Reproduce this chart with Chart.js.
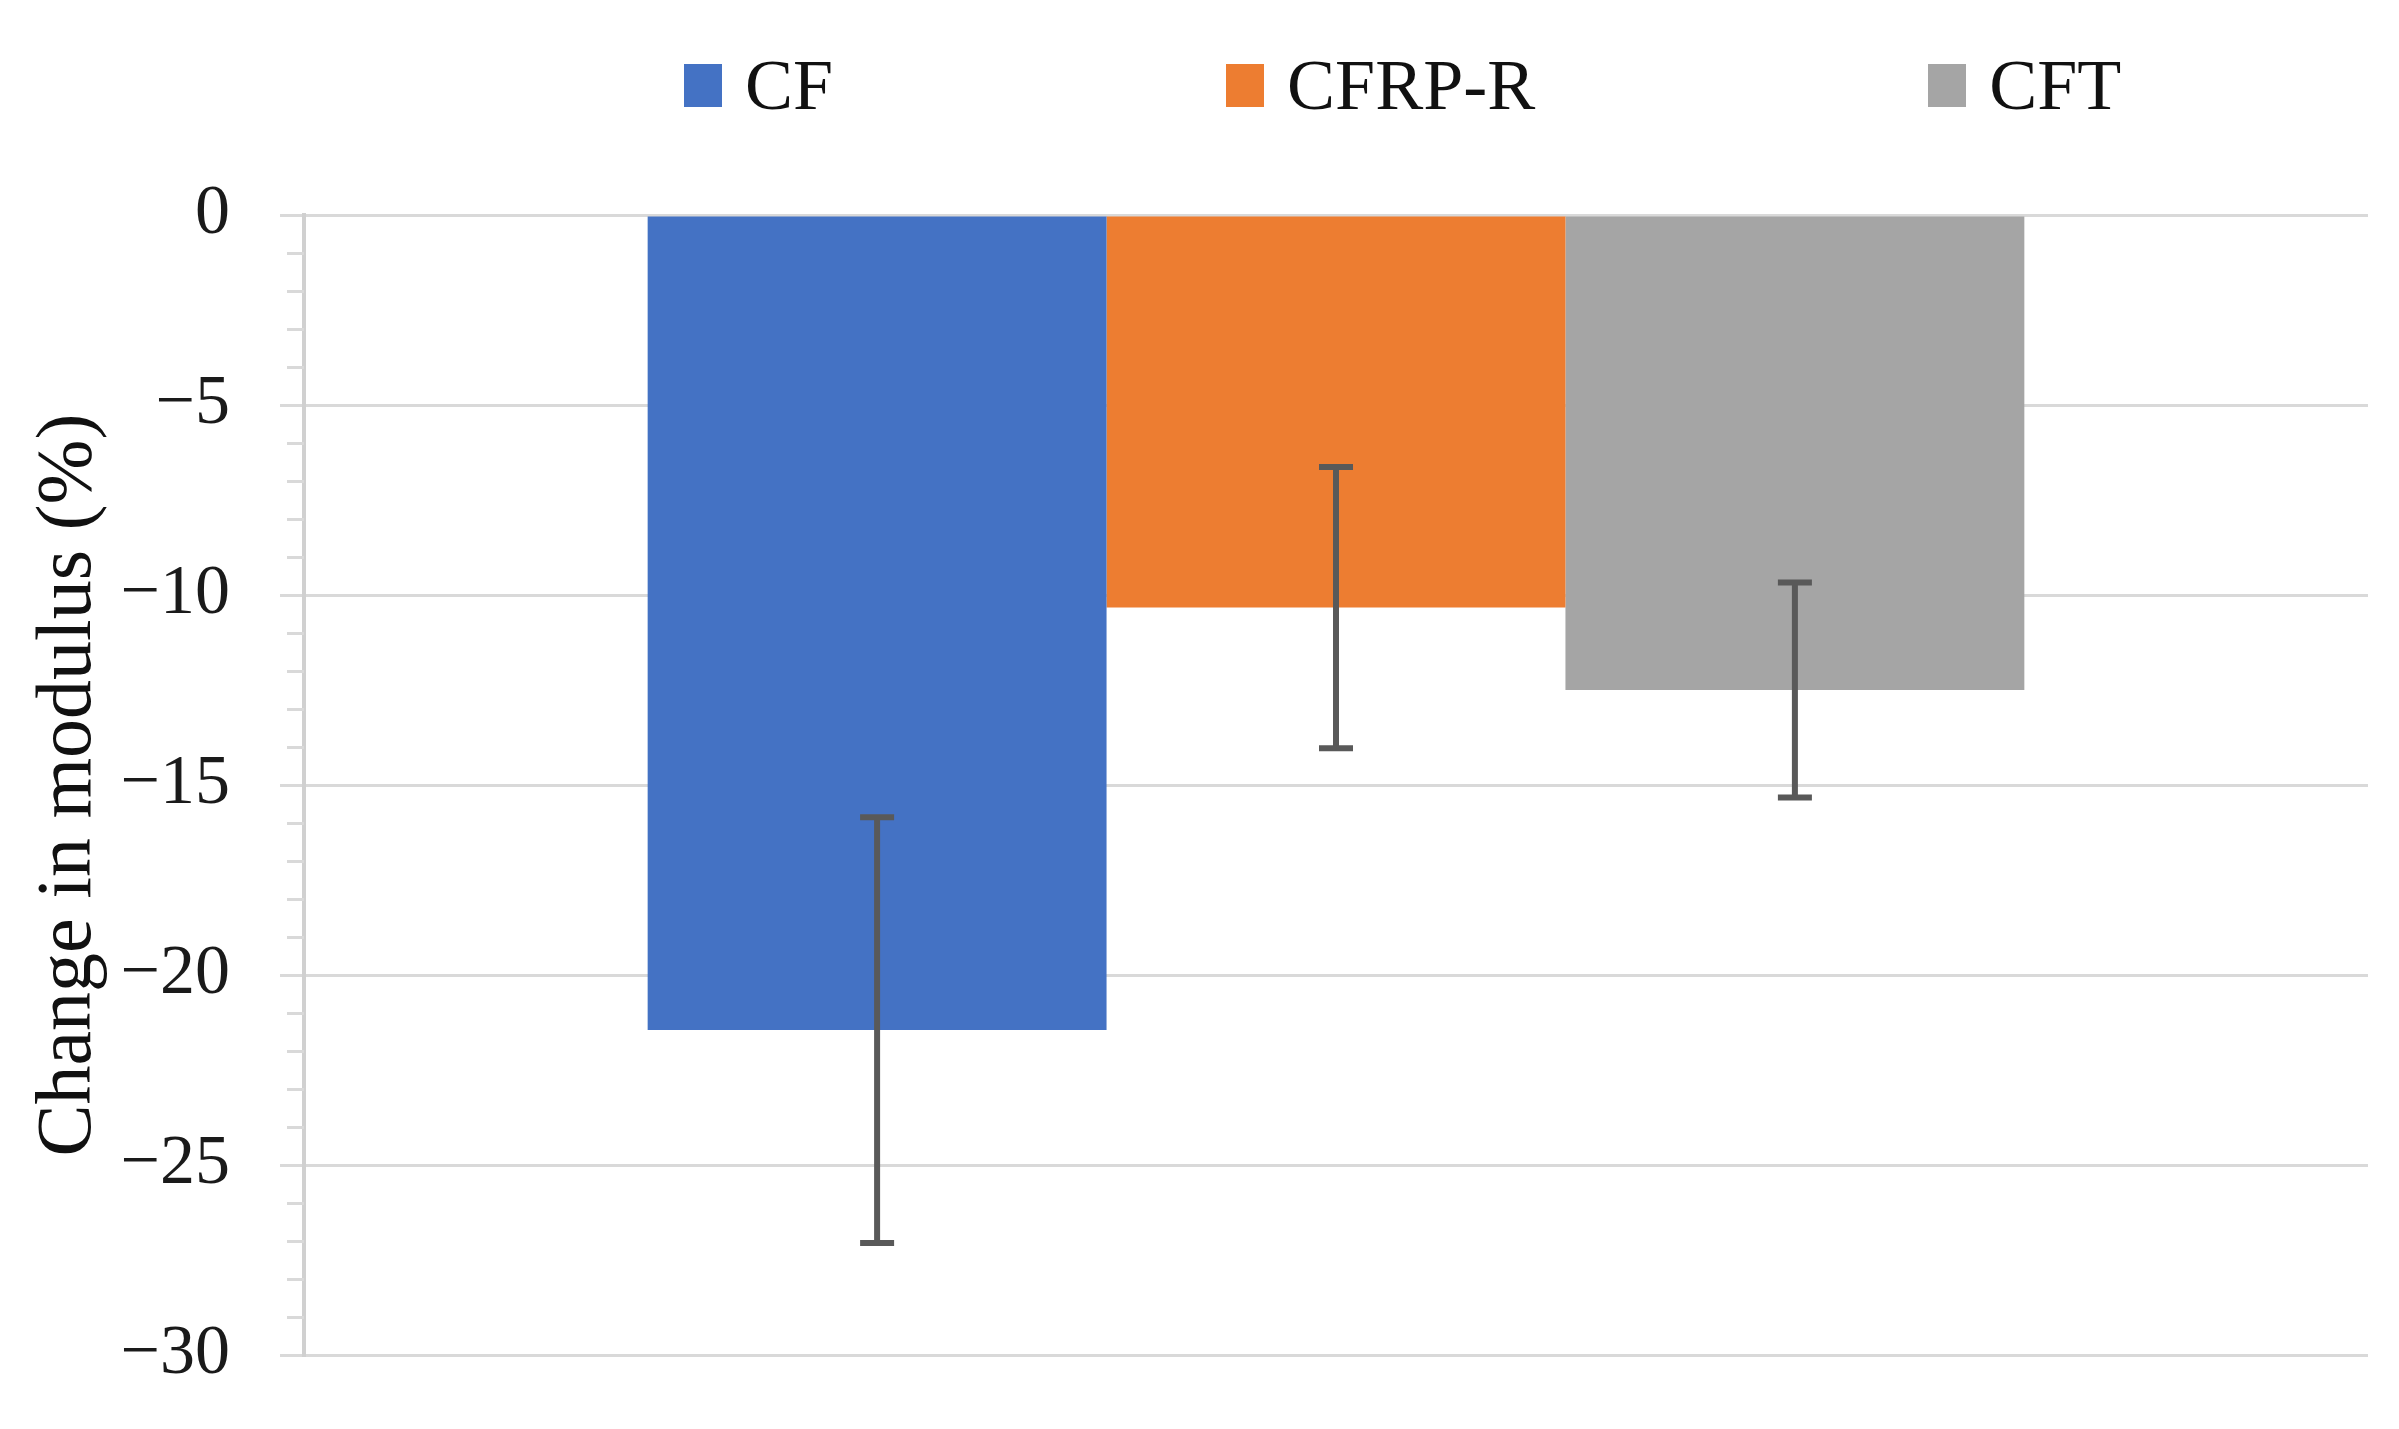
<!DOCTYPE html>
<html>
<head>
<meta charset="utf-8">
<script src="https://cdn.jsdelivr.net/npm/chart.js@4/dist/chart.umd.min.js"></script>
<style>
  html, body { margin: 0; padding: 0; background: #fff; }
  #wrap { position: relative; width: 2399px; height: 1429px; }
  #legend {
    position: absolute; top: 49px; left: 684px;
    display: flex; align-items: center; gap: 393px;
    font-family: "Liberation Serif", "DejaVu Serif", serif; font-size: 72px; line-height: 1; color: #111;
  }
  #legend .item { display: flex; align-items: center; }
  #legend .box { width: 38px; height: 43px; margin-right: 23px; }
</style>
</head>
<body>
<div id="wrap">
  <canvas id="chart" width="2399" height="1429"></canvas>
  <div id="legend"></div>
</div>
<script>
// data
var categories = [""];
var seriesNames = ["CF", "CFRP-R", "CFT"];
var seriesValues = [-21.45, -10.33, -12.5];
var seriesErrors = [5.6, 3.7, 2.83];
var seriesColors = ["#4472C4", "#ED7D31", "#A5A5A5"];
var yTicks = { min: -30, max: 0, step: 5, minorStep: 1 };

var serif = "'Liberation Serif', 'DejaVu Serif', serif";

var errorBars = {
  id: "errorBars",
  afterDatasetsDraw: function (chart) {
    var ctx = chart.ctx, y = chart.scales.y;
    ctx.save();
    ctx.strokeStyle = "#595959";
    ctx.lineWidth = 6;
    chart.data.datasets.forEach(function (ds, i) {
      var bar = chart.getDatasetMeta(i).data[0];
      if (!bar) return;
      var v = ds.data[0], e = seriesErrors[i];
      var y1 = y.getPixelForValue(v + e), y2 = y.getPixelForValue(v - e);
      ctx.beginPath();
      ctx.moveTo(bar.x, y1); ctx.lineTo(bar.x, y2);
      ctx.moveTo(bar.x - 17, y1); ctx.lineTo(bar.x + 17, y1);
      ctx.moveTo(bar.x - 17, y2); ctx.lineTo(bar.x + 17, y2);
      ctx.stroke();
    });
    ctx.restore();
  }
};

var minorTicks = {
  id: "minorTicks",
  afterDraw: function (chart) {
    var ctx = chart.ctx, y = chart.scales.y;
    ctx.save();
    ctx.strokeStyle = "#d9d9d9";
    ctx.lineWidth = 3;
    for (var v = yTicks.min; v <= yTicks.max; v += yTicks.minorStep) {
      if (v % yTicks.step === 0) continue;
      var py = Math.round(y.getPixelForValue(v)) + 0.5;
      ctx.beginPath();
      ctx.moveTo(y.right - 17, py);
      ctx.lineTo(y.right, py);
      ctx.stroke();
    }
    ctx.restore();
  }
};

var chart = new Chart(document.getElementById("chart"), {
  type: "bar",
  data: {
    labels: categories,
    datasets: seriesNames.map(function (n, i) {
      return {
        label: n,
        data: [seriesValues[i]],
        backgroundColor: seriesColors[i],
        borderWidth: 0,
        categoryPercentage: 0.667,
        barPercentage: 1.0
      };
    })
  },
  options: {
    responsive: false,
    animation: false,
    devicePixelRatio: 1,
    layout: { padding: { top: 215, bottom: 74, right: 31, left: 0 } },
    plugins: { legend: { display: false }, tooltip: { enabled: false } },
    scales: {
      x: { display: false },
      y: {
        min: yTicks.min,
        max: yTicks.max,
        afterFit: function (s) { s.width = 304; s.paddingTop = 0; s.paddingBottom = 0; },
        border: { color: "#d0d0d0", width: 4 },
        grid: { color: "#d9d9d9", lineWidth: 3, tickLength: 24, tickColor: "#d9d9d9" },
        ticks: {
          stepSize: yTicks.step,
          padding: 50,
          color: "#1a1a1a",
          font: { family: serif, size: 70 },
          callback: function (v) { return v === 0 ? "0" : "\u2212" + Math.abs(v); }
        },
        title: {
          display: true,
          text: "Change in modulus (%)",
          color: "#111",
          font: { family: serif, size: 78 },
          padding: { top: 23, bottom: 0 }
        }
      }
    }
  },
  plugins: [errorBars, minorTicks]
});

// legend built from the chart's own datasets
var lg = document.getElementById("legend");
chart.data.datasets.forEach(function (ds) {
  var it = document.createElement("div");
  it.className = "item";
  var b = document.createElement("span");
  b.className = "box";
  b.style.background = ds.backgroundColor;
  var t = document.createElement("span");
  t.textContent = ds.label;
  it.appendChild(b); it.appendChild(t);
  lg.appendChild(it);
});
</script>
</body>
</html>
